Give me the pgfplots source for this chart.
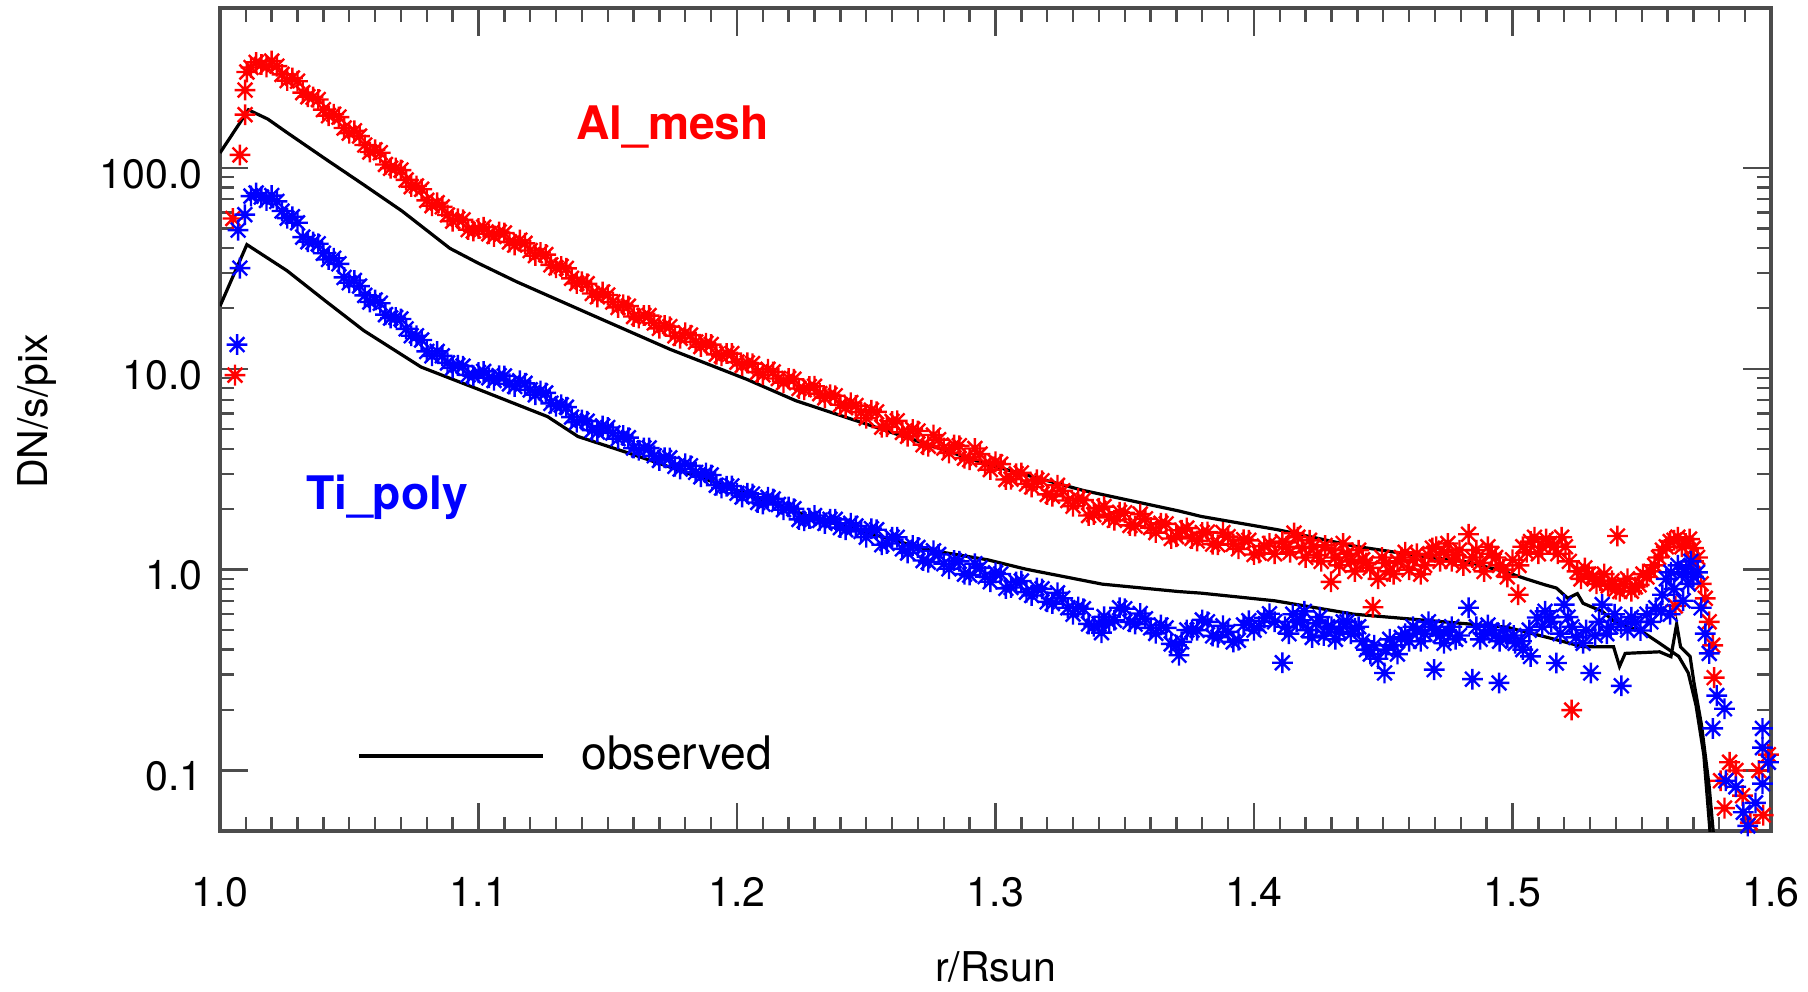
\documentclass[border=0pt]{standalone}
\usepackage{fontspec}
\setmainfont{TeX Gyre Heros}
\usepackage{pgfplots}
\pgfplotsset{compat=1.18}
\pgfdeclareplotmark{ast8}{%
  \pgfpathmoveto{\pgfqpoint{-\pgfplotmarksize}{0pt}}\pgfpathlineto{\pgfqpoint{\pgfplotmarksize}{0pt}}%
  \pgfpathmoveto{\pgfqpoint{0pt}{-\pgfplotmarksize}}\pgfpathlineto{\pgfqpoint{0pt}{\pgfplotmarksize}}%
  \pgfpathmoveto{\pgfqpoint{-.7071\pgfplotmarksize}{-.7071\pgfplotmarksize}}\pgfpathlineto{\pgfqpoint{.7071\pgfplotmarksize}{.7071\pgfplotmarksize}}%
  \pgfpathmoveto{\pgfqpoint{-.7071\pgfplotmarksize}{.7071\pgfplotmarksize}}\pgfpathlineto{\pgfqpoint{.7071\pgfplotmarksize}{-.7071\pgfplotmarksize}}%
  \pgfusepathqstroke}
\pgfplotsset{
  redstars/.style={forget plot, only marks, mark=ast8, color=red, mark size=2.6bp, mark options={line width=0.6bp}},
  bluestars/.style={forget plot, only marks, mark=ast8, color=blue, mark size=2.6bp, mark options={line width=0.6bp}},
}

\begin{document}
\begin{tikzpicture}
\begin{axis}[
  name=ax,
  scale only axis,
  width=387.75bp, height=205.75bp,
  xmin=1.0, xmax=1.6,
  ymode=log, ymin=0.05, ymax=625,
  xtick={1.0,1.1,1.2,1.3,1.4,1.5,1.6},
  xticklabels={1.0,1.1,1.2,1.3,1.4,1.5,1.6},
  minor x tick num=9,
  ytick={0.1,1,10,100},
  yticklabels={0.1,1.0,10.0,100.0},
  tick align=inside,
  major tick length=7bp, minor tick length=3.5bp,
  axis line style={black!70, line width=0.8bp},
  every tick/.style={black!70, line width=0.6bp},
  tick label style={font=\fontsize{10.3}{12}\selectfont},
  xticklabel style={yshift=-8bp},
  yticklabel style={xshift=-0.9bp, yshift=-1.5bp},
  /pgf/number format/assume math mode=true,
  xlabel={r/Rsun},
  ylabel={DN/s/pix},
  every axis x label/.style={at={(axis description cs:0.5,-0.165)}, anchor=center, font=\fontsize{10.3}{12}\selectfont},
  every axis y label/.style={at={(axis description cs:-0.118,0.51)}, rotate=90, anchor=center, font=\fontsize{10.3}{12}\selectfont},
  legend style={at={(axis description cs:0.0883,0.0911)}, anchor=west, draw=none, fill=none,
    inner sep=0pt, outer sep=0pt, column sep=9.25bp,
    nodes={inner sep=0pt, font=\fontsize{11.6}{14}\selectfont}},
  legend image code/.code={\draw[black, line width=0.9bp] (0bp,0bp) -- (46bp,0bp);},
]

% ---- Al_mesh (red asterisks)
\addplot[redstars] table {
x y
1.0058 9.3
1.0050 56
1.0077 116
1.0097 184
1.0097 244
1.0104 300
1.012 316
1.016 327
1.020 340
1.024 292
1.028 280
1.032 237
1.036 225
1.040 195
1.044 185
1.048 158
1.052 153
1.056 130
1.060 123
1.064 104
1.068 99.8
1.072 87.1
1.076 81.3
1.080 68.9
1.084 67.1
1.088 58.3
1.092 55.8
1.096 49.3
1.100 49.9
1.104 47.0
1.108 48.0
1.112 42.8
1.116 43.7
1.120 38.8
1.124 37.9
1.128 32.9
1.132 32.3
1.136 28.2
1.140 27.1
1.144 23.7
1.148 24.1
1.152 21.5
1.156 20.8
1.160 18.2
1.164 18.4
1.168 16.9
1.172 16.4
1.176 14.6
1.180 15.1
1.184 13.6
1.188 13.4
1.192 11.8
1.196 11.9
1.200 10.8
1.204 10.7
1.208 9.62
1.212 9.93
1.216 8.95
1.220 8.95
1.224 7.98
1.228 8.15
1.232 7.52
1.236 7.43
1.240 6.62
1.244 6.78
1.248 6.08
1.252 6.22
1.256 5.12
1.260 5.47
1.264 4.82
1.268 4.99
1.272 4.19
1.276 4.68
1.280 4.03
1.284 4.17
1.288 3.59
1.292 4.01
1.296 3.37
1.300 3.44
1.304 2.81
1.308 3.00
1.312 2.67
1.316 2.80
1.320 2.37
1.324 2.63
1.328 2.21
1.332 2.26
1.336 1.86
1.340 2.02
1.344 1.82
1.348 1.93
1.352 1.66
1.356 1.89
1.360 1.62
1.364 1.70
1.368 1.43
1.372 1.57
1.376 1.43
1.380 1.53
1.384 1.34
1.388 1.53
1.392 1.34
1.396 1.41
1.400 1.19
1.404 1.31
1.408 1.20
1.411 1.38
1.414 1.22
1.417 1.45
1.420 1.15
1.423 1.30
1.426 1.10
1.4298 0.87
1.430 1.25
1.433 1.05
1.436 1.20
1.439 0.98
1.442 1.12
1.445 1.02
1.446 0.65
1.448 0.90
1.451 1.08
1.454 0.95
1.457 1.15
1.460 1.00
1.463 1.20
1.466 1.05
1.469 1.28
1.472 1.10
1.475 1.35
1.478 1.18
1.481 1.05
1.483 1.50
1.486 1.25
1.489 0.98
1.492 1.20
1.495 1.05
1.498 0.92
1.500 1.12
1.5022 0.75
1.504 1.30
1.507 1.38
1.510 1.20
1.513 1.42
1.516 1.30
1.519 1.45
1.522 1.10
1.5229 0.20
1.525 0.98
1.528 1.02
1.531 0.92
1.534 0.88
1.537 0.83
1.540 0.80
1.5406 1.47
1.543 0.85
1.546 0.78
1.549 0.84
1.552 0.92
1.555 1.05
1.558 1.25
1.561 1.38
1.564 1.45
1.567 1.35
1.570 1.28
1.5716 1.15
1.5630 0.66
1.573 0.85
1.5746 0.72
1.5761 0.55
1.5775 0.42
1.578 0.29
1.5805 0.089
1.582 0.065
1.584 0.11
1.5864 0.10
1.589 0.075
1.592 0.055
1.5953 0.10
1.597 0.06
1.599 0.12
};
\addplot[redstars] table {
x y
1.014 335
1.018 318
1.022 321
1.026 272
1.030 270
1.034 226
1.038 219
1.042 182
1.046 179
1.050 149
1.054 144
1.058 120
1.062 119
1.066 99.6
1.070 97.5
1.074 80.7
1.078 78.3
1.082 64.9
1.086 64.0
1.090 54.3
1.094 55.1
1.098 48.5
1.102 50.7
1.106 45.6
1.110 47.4
1.114 41.3
1.118 42.1
1.122 36.6
1.126 37.0
1.130 31.8
1.134 31.6
1.138 26.6
1.142 26.5
1.146 22.8
1.150 23.3
1.154 20.2
1.158 20.5
1.162 17.9
1.166 18.4
1.170 15.9
1.174 16.2
1.178 14.2
1.182 14.7
1.186 12.9
1.190 13.2
1.194 11.6
1.198 11.9
1.202 10.4
1.206 10.6
1.210 9.33
1.214 9.64
1.218 8.53
1.222 8.87
1.226 7.87
1.230 8.18
1.234 7.18
1.238 7.34
1.242 6.40
1.246 6.56
1.250 5.67
1.254 6.10
1.258 5.14
1.262 5.51
1.266 4.61
1.270 4.90
1.274 4.12
1.278 4.44
1.282 3.81
1.286 4.14
1.290 3.53
1.294 3.76
1.298 3.15
1.302 3.35
1.306 2.82
1.310 3.03
1.314 2.58
1.318 2.77
1.322 2.32
1.326 2.47
1.330 2.07
1.334 2.22
1.338 1.88
1.342 2.06
1.346 1.76
1.350 1.92
1.354 1.65
1.358 1.79
1.362 1.53
1.366 1.69
1.370 1.46
1.374 1.61
1.378 1.39
1.382 1.54
1.386 1.33
1.390 1.46
1.394 1.27
1.398 1.40
1.402 1.21
1.406 1.35
1.4125 1.30
1.4155 1.52
1.4185 1.28
1.4215 1.40
1.4245 1.18
1.4275 1.32
1.4315 1.15
1.4345 1.35
1.4375 1.10
1.4405 1.25
1.4435 1.08
1.4495 1.15
1.4525 0.98
1.4555 1.10
1.4585 1.22
1.4615 1.12
1.4645 0.95
1.4675 1.18
1.4705 1.30
1.4735 1.22
1.4765 1.10
1.4795 1.25
1.4845 1.15
1.4875 1.08
1.4905 1.30
1.4935 1.15
1.4965 1.00
1.5025 1.05
1.5055 1.22
1.5085 1.45
1.5115 1.30
1.5145 1.35
1.5175 1.20
1.5205 1.30
1.5265 0.90
1.5295 0.95
1.5325 0.85
1.5355 0.95
1.5385 0.88
1.5415 0.78
1.5445 0.90
1.5475 0.82
1.5505 0.95
1.5535 0.98
1.5565 1.15
1.5595 1.30
1.5625 1.40
1.5655 1.30
1.5685 1.42
1.5700 1.10
};

% ---- Ti_poly (blue asterisks)
\addplot[bluestars] table {
x y
1.0066 13.2
1.0077 31.7
1.0070 49
1.0096 58.5
1.012 72.4
1.016 71.6
1.020 72.8
1.024 61.0
1.028 57.1
1.032 45.2
1.036 42.7
1.040 37.6
1.044 35.5
1.048 28.5
1.052 27.5
1.056 23.2
1.060 22.0
1.064 18.6
1.068 18.0
1.072 15.8
1.076 14.6
1.080 12.2
1.084 12.2
1.088 10.7
1.092 10.4
1.096 9.33
1.100 9.57
1.104 9.02
1.108 9.23
1.112 8.41
1.116 8.71
1.120 7.85
1.124 7.76
1.128 6.73
1.132 6.61
1.136 5.75
1.140 5.56
1.144 4.95
1.148 5.19
1.152 4.79
1.156 4.65
1.160 4.03
1.164 4.03
1.168 3.69
1.172 3.61
1.176 3.27
1.180 3.37
1.184 3.05
1.188 3.03
1.192 2.63
1.196 2.60
1.200 2.40
1.204 2.40
1.208 2.16
1.212 2.29
1.216 2.11
1.220 2.05
1.224 1.78
1.228 1.80
1.232 1.76
1.236 1.78
1.240 1.62
1.244 1.70
1.248 1.55
1.252 1.60
1.256 1.33
1.260 1.45
1.264 1.27
1.268 1.32
1.272 1.11
1.276 1.24
1.280 1.07
1.284 1.11
1.288 0.95
1.292 1.07
1.296 0.923
1.300 0.964
1.304 0.807
1.308 0.867
1.312 0.773
1.316 0.809
1.320 0.692
1.324 0.767
1.328 0.646
1.332 0.652
1.336 0.537
1.340 0.537
1.341 0.486
1.344 0.55
1.348 0.646
1.352 0.55
1.356 0.605
1.360 0.513
1.364 0.53
1.368 0.427
1.371 0.375
1.372 0.437
1.376 0.50
1.380 0.562
1.384 0.468
1.388 0.525
1.392 0.437
1.396 0.53
1.400 0.50
1.404 0.575
1.408 0.55
1.411 0.344
1.412 0.52
1.415 0.60
1.418 0.56
1.421 0.50
1.424 0.54
1.427 0.47
1.430 0.52
1.433 0.49
1.436 0.55
1.439 0.51
1.442 0.44
1.445 0.38
1.448 0.36
1.4505 0.306
1.451 0.40
1.454 0.42
1.457 0.46
1.460 0.44
1.463 0.50
1.466 0.48
1.469 0.52
1.4697 0.318
1.472 0.47
1.475 0.49
1.478 0.45
1.483 0.646
1.4845 0.285
1.486 0.52
1.489 0.48
1.492 0.50
1.4948 0.273
1.495 0.44
1.498 0.46
1.501 0.43
1.504 0.40
1.507 0.37
1.5096 0.578
1.5126 0.62
1.515 0.55
1.517 0.343
1.520 0.67
1.523 0.52
1.5273 0.43
1.5303 0.306
1.532 0.47
1.5347 0.67
1.538 0.52
1.542 0.536
1.5421 0.264
1.546 0.58
1.5495 0.498
1.552 0.60
1.5554 0.646
1.558 0.75
1.561 0.60
1.5613 0.97
1.564 1.05
1.566 0.70
1.5672 1.01
1.568 0.85
1.570 0.92
1.5716 0.97
1.573 0.646
1.5746 0.48
1.5761 0.383
1.5775 0.162
1.579 0.236
1.582 0.203
1.5825 0.089
1.5864 0.083
1.5893 0.062
1.591 0.053
1.594 0.069
1.5967 0.162
1.5967 0.13
1.5967 0.086
1.599 0.11
};
\addplot[bluestars] table {
x y
1.014 75.0
1.018 68.9
1.022 68.1
1.026 56.2
1.030 53.3
1.034 42.9
1.038 41.9
1.042 35.0
1.046 33.3
1.050 26.8
1.054 25.8
1.058 21.5
1.062 21.2
1.066 17.9
1.070 17.7
1.074 14.6
1.078 13.9
1.082 11.6
1.086 11.6
1.090 10.1
1.094 10.3
1.098 9.24
1.102 9.70
1.106 8.76
1.110 9.20
1.114 8.17
1.118 8.46
1.122 7.43
1.126 7.58
1.130 6.51
1.134 6.44
1.138 5.42
1.142 5.48
1.146 4.84
1.150 5.10
1.154 4.49
1.158 4.54
1.162 3.93
1.166 4.03
1.170 3.50
1.174 3.60
1.178 3.17
1.182 3.29
1.186 2.90
1.190 2.96
1.194 2.55
1.198 2.61
1.202 2.30
1.206 2.38
1.210 2.12
1.214 2.25
1.218 1.99
1.222 2.01
1.226 1.75
1.230 1.86
1.234 1.70
1.238 1.78
1.242 1.58
1.246 1.65
1.250 1.45
1.254 1.58
1.258 1.35
1.262 1.45
1.266 1.21
1.270 1.29
1.274 1.09
1.278 1.19
1.282 1.01
1.286 1.10
1.290 0.94
1.294 1.02
1.298 0.871
1.302 0.951
1.306 0.815
1.310 0.878
1.314 0.744
1.318 0.802
1.322 0.678
1.326 0.720
1.330 0.600
1.334 0.639
1.338 0.523
1.342 0.583
1.346 0.560
1.350 0.639
1.354 0.536
1.358 0.569
1.362 0.482
1.366 0.513
1.370 0.420
1.374 0.501
1.378 0.499
1.382 0.550
1.386 0.461
1.390 0.490
1.394 0.445
1.398 0.557
1.402 0.523
1.406 0.603
1.4135 0.48
1.4165 0.55
1.4195 0.62
1.4225 0.46
1.4255 0.58
1.4285 0.52
1.4315 0.45
1.4345 0.55
1.4375 0.48
1.4405 0.52
1.4435 0.40
1.4465 0.42
1.4525 0.45
1.4555 0.38
1.4585 0.48
1.4615 0.52
1.4645 0.44
1.4675 0.55
1.4705 0.50
1.4735 0.43
1.4765 0.52
1.4795 0.47
1.4875 0.45
1.4905 0.53
1.4935 0.47
1.4965 0.50
1.5005 0.47
1.5035 0.44
1.5065 0.50
1.5115 0.52
1.5145 0.58
1.5185 0.48
1.5215 0.58
1.5245 0.46
1.5285 0.50
1.5335 0.55
1.5365 0.48
1.5395 0.60
1.5445 0.50
1.5475 0.55
1.5535 0.55
1.5575 0.62
1.5595 0.90
1.5625 0.80
1.5655 0.95
1.5690 1.10
};

% ---- observed (black lines)
\addplot[black, line width=0.8bp] table {
x y
1.000 118.7
1.011 194.5
1.0185 175
1.0259 150
1.0407 111
1.0556 82.4
1.0704 61
1.0889 39.8
1.100 33.5
1.1148 27.1
1.1444 18.4
1.1741 12.5
1.2037 8.87
1.2227 6.94
1.2598 4.82
1.2969 3.34
1.3339 2.48
1.3709 1.96
1.3796 1.84
1.4092 1.58
1.4387 1.31
1.4682 1.15
1.483 1.09
1.4978 0.97
1.5052 0.90
1.5126 0.84
1.517 0.81
1.5214 0.72
1.5251 0.76
1.5273 0.68
1.5347 0.62
1.5406 0.536
1.5495 0.498
1.5569 0.43
1.5643 0.37
1.568 0.306
1.571 0.211
1.574 0.12
1.577 0.04
};
\addlegendentry{observed}

\addplot[forget plot, black, line width=0.8bp] table {
x y
1.000 20.5
1.0104 41.5
1.0259 30.8
1.0407 21.8
1.0556 15.5
1.0778 10.2
1.100 7.9
1.1267 5.78
1.1385 4.6
1.1593 3.76
1.1889 2.79
1.2286 1.83
1.2746 1.25
1.2969 1.12
1.3117 1.006
1.3413 0.847
1.3709 0.778
1.3796 0.764
1.408 0.70
1.4387 0.60
1.4682 0.557
1.4978 0.517
1.5155 0.453
1.5273 0.413
1.5391 0.413
1.5414 0.33
1.5436 0.383
1.5569 0.39
1.5613 0.369
1.5635 0.536
1.565 0.413
1.5687 0.37
1.5702 0.274
1.5731 0.169
1.5761 0.083
1.5783 0.04
};

\node[anchor=base west, text=red, font=\bfseries\fontsize{11.6}{14}\selectfont] at (axis cs:1.1323,138) {Al\_mesh};
\node[anchor=base west, text=blue, font=\bfseries\fontsize{11.6}{14}\selectfont] at (axis cs:1.0279,1.99) {Ti\_poly};
\end{axis}
\pgfresetboundingbox
\path ([shift={(-55bp,-40.25bp)}]ax.south west) rectangle ([shift={(9.25bp,2bp)}]ax.north east);
\end{tikzpicture}
\end{document}
